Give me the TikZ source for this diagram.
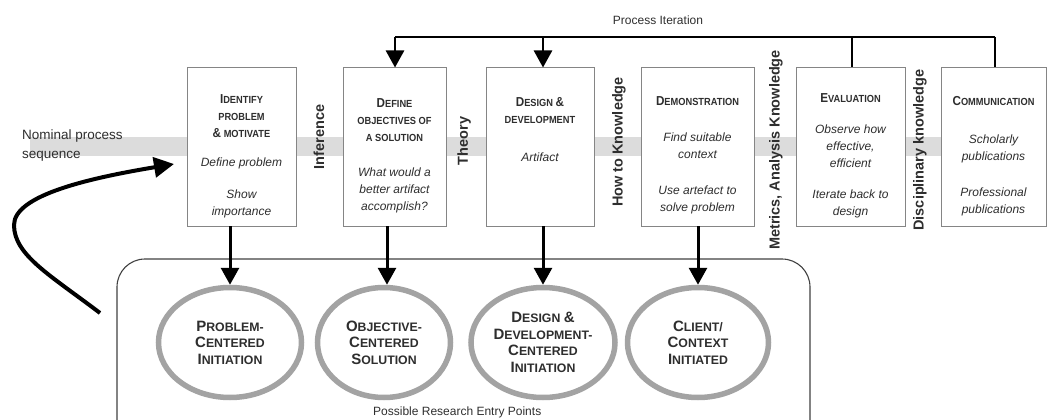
\documentclass[tikz,border=0pt]{standalone}
\usepackage{fontspec}
\setmainfont{Liberation Sans}
\newfontfamily\capsfont[FakeStretch=0.9]{Liberation Sans}
\usetikzlibrary{arrows.meta,shapes.geometric}
\definecolor{ink}{HTML}{2E2E2E}
\definecolor{band}{HTML}{DCDCDC}
\definecolor{frame}{HTML}{858585}
\definecolor{ring}{HTML}{A3A3A3}
% small-caps imitation: large initial, smaller capitals
\newcommand\ttlbig{\fontsize{13}{17}\selectfont}
\newcommand\ttlsmall{\fontsize{10.3}{17}\selectfont}
\newcommand\sct[2]{{\ttlbig #1}{\ttlsmall #2}}
\newcommand\ebig{\fontsize{15}{16.5}\selectfont}
\newcommand\esmall{\fontsize{12.3}{16.5}\selectfont}
\newcommand\esc[2]{{\ebig #1}{\esmall #2}}
\begin{document}
\begin{tikzpicture}[x=1pt,y=-1pt,
  stage/.style={draw=frame, line width=1pt, fill=white, inner sep=0pt},
  ttl/.style={font=\capsfont\bfseries\ttlsmall, text=ink, align=center, inner sep=0pt},
  itl/.style={font=\itshape\fontsize{12}{17}\selectfont, text=ink, align=center, inner sep=0pt},
  vlab/.style={rotate=90, font=\bfseries\fontsize{14.5}{16}\selectfont, text=ink, inner sep=0pt},
  entry/.style={ellipse, draw=ring, line width=5.5pt, fill=white, inner sep=0pt,
    minimum height=110pt, font=\bfseries\esmall, text=ink, align=center},
  iter/.style={line width=2.6pt, draw=black},
  iterhead/.style={-{Triangle[length=17pt,width=18pt]}},
  downarrow/.style={line width=3pt, -{Triangle[length=17pt,width=18pt]}},
  plain/.style={font=\fontsize{12}{13}\selectfont, text=ink, inner sep=0pt}
]
\useasboundingbox (0,0) rectangle (1047,420);

% nominal process band
\fill[band] (30,137) rectangle (1040,156);
\node[plain, font=\fontsize{13.5}{19}\selectfont, align=left, anchor=west] (nominal) at (22,146) {Nominal process\\sequence};

% process iteration bar
\node[plain] (iterlabel) at (658,20) {Process Iteration};
\coordinate (pA) at (395,37);
\coordinate (pB) at (543,37);
\coordinate (pC) at (852,37);
\coordinate (pD) at (995,37);

% stage boxes
\node[stage, minimum width=109pt, minimum height=158pt] (b1) at (241.5,147) {};
\node[stage, minimum width=103pt, minimum height=158pt] (b2) at (394.5,147) {};
\node[stage, minimum width=108pt, minimum height=158pt] (b3) at (540,147) {};
\node[stage, minimum width=113pt, minimum height=158pt] (b4) at (697.5,147) {};
\node[stage, minimum width=109pt, minimum height=158pt] (b5) at (850.5,147) {};
\node[stage, minimum width=105pt, minimum height=158pt] (b6) at (993.5,147) {};

\draw[iter] (pA) -- (pD);
\draw[iter, iterhead] (pA) -- (pA |- b2.north);
\draw[iter, iterhead] (pB) -- (pB |- b3.north);
\draw[iter] (pC) -- (pC |- b5.north);
\draw[iter] (pD) -- (pD |- b6.north);

% box texts
\node[ttl] (t1) at (241.5,116) {\sct{I}{DENTIFY}\\PROBLEM\\{\ttlbig\&} MOTIVATE};
\node[itl] (i1a) at (241.5,163) {Define problem};
\node[itl] (i1b) at (241.5,203.5) {Show\\importance};

\node[ttl] (t2) at (394.5,120) {\sct{D}{EFINE}\\OBJECTIVES OF\\A SOLUTION};
\node[itl] (i2a) at (394.5,190.5) {What would a\\better artifact\\accomplish?};

\node[ttl] (t3) at (540,111) {\sct{D}{ESIGN} {\ttlbig\&}\\DEVELOPMENT};
\node[itl] (i3a) at (540,157) {Artifact};

\node[ttl] (t4) at (697.5,101) {\sct{D}{EMONSTRATION}};
\node[itl] (i4a) at (697.5,145.5) {Find suitable\\context};
\node[itl] (i4b) at (697.5,199.5) {Use artefact to\\solve problem};

\node[ttl] (t5) at (850.5,98) {\sct{E}{VALUATION}};
\node[itl] (i5a) at (850.5,146) {Observe how\\effective,\\efficient};
\node[itl] (i5b) at (850.5,203.5) {Iterate back to\\design};

\node[ttl] (t6) at (993.5,101) {\sct{C}{OMMUNICATION}};
\node[itl] (i6a) at (993.5,148.5) {Scholarly\\publications};
\node[itl] (i6b) at (993.5,201.5) {Professional\\publications};

% knowledge labels between stages
\node[vlab] (v1) at (319,137) {Inference};
\node[vlab] (v2) at (464,141) {Theory};
\node[vlab] (v3) at (619,142) {How to Knowledge};
\node[vlab] (v4) at (776,150) {Metrics, Analysis Knowledge};
\node[vlab] (v5) at (920,150) {Disciplinary knowledge};

% research entry points
\draw[draw=black!75, line width=1.1pt, rounded corners=28pt] (117,420) -- (117,259) -- (810,259) -- (810,420);
\node[plain, anchor=west] (entrylabel) at (373,412) {Possible Research Entry Points};

\node[entry, minimum width=143pt] (e1) at (230,342.5) {\esc{P}{ROBLEM-}\\\esc{C}{ENTERED}\\\esc{I}{NITIATION}};
\node[entry, minimum width=133pt] (e2) at (384,342.5) {\esc{O}{BJECTIVE-}\\\esc{C}{ENTERED}\\\esc{S}{OLUTION}};
\node[entry, minimum width=144pt] (e3) at (543,342.5) {\esc{D}{ESIGN} {\ebig\&}\\\esc{D}{EVELOPMENT-}\\\esc{C}{ENTERED}\\\esc{I}{NITIATION}};
\node[entry, minimum width=141pt] (e4) at (698,342.5) {\esc{C}{LIENT/}\\\esc{C}{ONTEXT}\\\esc{I}{NITIATED}};

\coordinate (d1) at (230,226);
\coordinate (d2) at (387,226);
\coordinate (d3) at (543,226);
\coordinate (d4) at (698,226);
\draw[downarrow] (d1) -- (d1 |- e1.north);
\draw[downarrow] (d2) -- (d2 |- e2.north);
\draw[downarrow] (d3) -- (d3 |- e3.north);
\draw[downarrow] (d4) -- (d4 |- e4.north);

% entry arrow into the process
\coordinate (cstart) at (100,313);
\coordinate (cmid) at (14,225);
\coordinate (ctip) at (174,164);
\draw[line width=4pt, -{Triangle[length=20pt,width=20pt]}]
  (cstart) .. controls (50,275) and (14,255) .. (cmid)
  .. controls (14,195) and (90,178) .. (ctip);
\end{tikzpicture}
\end{document}
